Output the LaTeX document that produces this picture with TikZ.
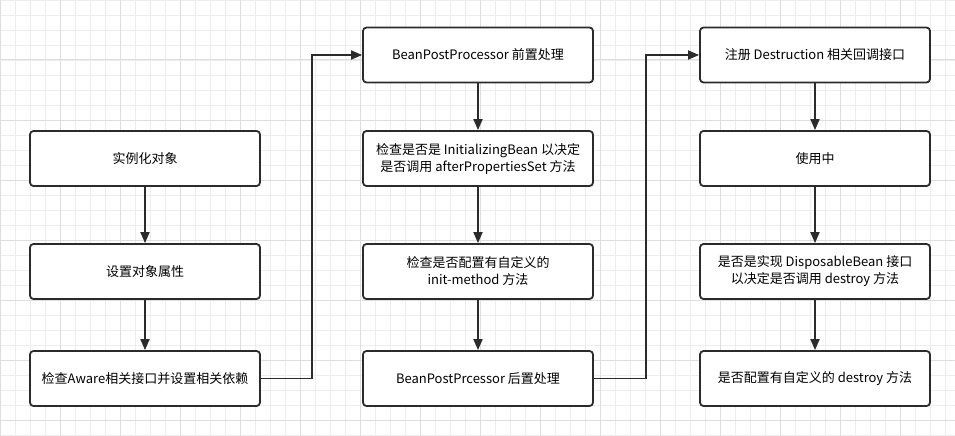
\documentclass[tikz,border=0pt]{standalone}
\usepackage{fontspec}
\setmainfont{Noto Sans CJK SC}
\usetikzlibrary{arrows.meta}
\definecolor{gridminor}{HTML}{EDEDED}
\definecolor{gridmajor}{HTML}{DEDEDE}
\definecolor{linegray}{HTML}{2B2B2B}
\tikzset{
	stage/.style={draw=linegray,line width=1.8pt,rounded corners=3.5pt,fill=white,
		minimum width=230pt,minimum height=55pt,inner sep=0pt,align=center,
		font=\fontsize{13pt}{17pt}\selectfont},
	flow/.style={draw=linegray,line width=1.8pt,-{Triangle[length=11pt,width=9pt]}},
}
\begin{document}
\begin{tikzpicture}[x=1pt,y=-1pt]
\useasboundingbox (0,0) rectangle (955,436);
\fill[white] (0,0) rectangle (955,436);
% The thin grid lines
\foreach \coo in {0,15,...,955}
{
	\draw[gridminor,line width=0.9pt] (\coo,0) -- (\coo,436);
}
\foreach \coo in {0,15,...,436}
{
	\draw[gridminor,line width=0.9pt] (0,\coo) -- (955,\coo);
}
% The thick grid lines
\foreach \coo in {0,60,...,955}
{
	\draw[gridmajor,line width=1pt] (\coo,0) -- (\coo,436);
}
\foreach \coo in {0,60,...,436}
{
	\draw[gridmajor,line width=1pt] (0,\coo) -- (955,\coo);
}

% Instantiation
\node[stage] (create) at (145,158.5) {实例化对象};
\node[stage] (props) at (145,271.5) {设置对象属性};
\node[stage] (aware) at (145,378.5) {检查Aware相关接口并设置相关依赖};

% Initialization
\node[stage] (before) at (478,55) {BeanPostProcessor 前置处理};
\node[stage] (initbean) at (478,158.5) {检查是否是 InitializingBean 以决定\\是否调用 afterPropertiesSet 方法};
\node[stage] (initmethod) at (478,271.5) {检查是否配置有自定义的\\init-method 方法};
\node[stage] (after) at (478,378.5) {BeanPostPrcessor 后置处理};

% Use and destruction
\node[stage] (register) at (815,55) {注册 Destruction 相关回调接口};
\node[stage] (inuse) at (815,158.5) {使用中};
\node[stage] (disposable) at (815,271.5) {是否是实现 DisposableBean 接口\\以决定是否调用 destroy 方法};
\node[stage] (destroy) at (815,378.5) {是否配置有自定义的 destroy 方法};

% The arrows
\draw[flow] (create) -- (props);
\draw[flow] (props) -- (aware);
\draw[flow] (before) -- (initbean);
\draw[flow] (initbean) -- (initmethod);
\draw[flow] (initmethod) -- (after);
\draw[flow] (register) -- (inuse);
\draw[flow] (inuse) -- (disposable);
\draw[flow] (disposable) -- (destroy);

% Jumps between the columns
\coordinate (bendA) at (312,378.5);
\coordinate (bendB) at (646,378.5);
\draw[flow,rounded corners=0pt] (aware.east) -- (bendA) |- (before.west);
\draw[flow,rounded corners=0pt] (after.east) -- (bendB) |- (register.west);

\end{tikzpicture}
\end{document}
